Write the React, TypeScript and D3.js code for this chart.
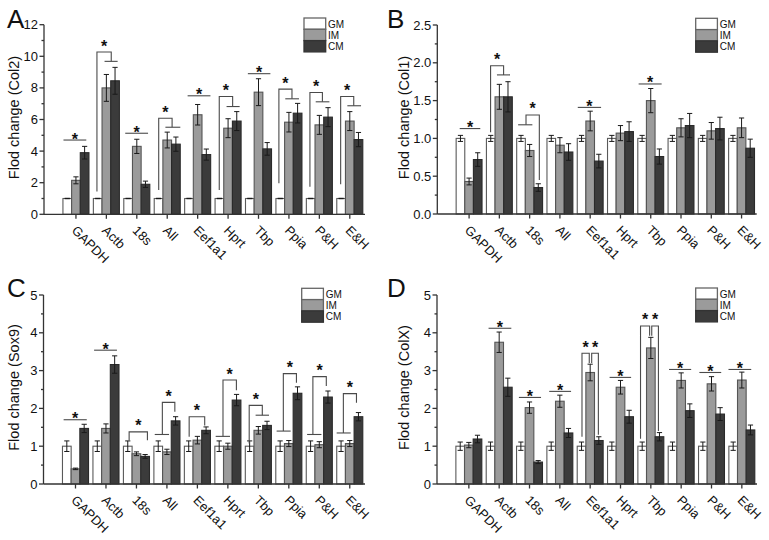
import React from "react";
import * as d3 from "d3";

const categories = ["GAPDH", "Actb", "18s", "All", "Eef1a1", "Hprt", "Tbp", "Ppia", "P&H", "E&H"];
const seriesNames = ["GM", "IM", "CM"];

// Panel A (Col2)
const gmA = [1, 1, 1, 1, 1, 1, 1, 1, 1, 1];
const gmErrA = [0, 0, 0, 0, 0, 0, 0, 0, 0, 0];
const imA = [2.15, 8.0, 4.3, 4.7, 6.3, 5.45, 7.73, 5.83, 5.66, 5.9];
const imErrA = [0.22, 0.85, 0.45, 0.5, 0.65, 0.6, 0.85, 0.62, 0.6, 0.6];
const cmA = [3.9, 8.45, 1.9, 4.44, 3.78, 5.9, 4.14, 6.4, 6.15, 4.73];
const cmErrA = [0.4, 0.85, 0.2, 0.45, 0.35, 0.6, 0.4, 0.62, 0.6, 0.45];

// Panel B (Col1)
const gmB = [1, 1, 1, 1, 1, 1, 1, 1, 1, 1];
const gmErrB = [0.04, 0.04, 0.04, 0.04, 0.04, 0.04, 0.04, 0.04, 0.04, 0.04];
const imB = [0.43, 1.55, 0.84, 0.91, 1.23, 1.07, 1.5, 1.14, 1.1, 1.14];
const imErrB = [0.045, 0.165, 0.08, 0.1, 0.13, 0.1, 0.16, 0.12, 0.11, 0.13];
const cmB = [0.72, 1.55, 0.35, 0.82, 0.7, 1.09, 0.76, 1.17, 1.13, 0.87];
const cmErrB = [0.09, 0.2, 0.05, 0.11, 0.09, 0.13, 0.1, 0.16, 0.15, 0.12];

// Panel C (Sox9)
const gmC = [1, 1, 1, 1, 1, 1, 1, 1, 1, 1];
const gmErrC = [0.14, 0.14, 0.14, 0.14, 0.14, 0.14, 0.14, 0.14, 0.14, 0.14];
const imC = [0.4, 1.47, 0.8, 0.85, 1.16, 1.0, 1.42, 1.07, 1.04, 1.07];
const imErrC = [0.02, 0.12, 0.05, 0.07, 0.1, 0.08, 0.1, 0.08, 0.08, 0.08];
const cmC = [1.47, 3.16, 0.73, 1.67, 1.42, 2.22, 1.55, 2.4, 2.3, 1.78];
const cmErrC = [0.11, 0.23, 0.05, 0.11, 0.09, 0.15, 0.11, 0.17, 0.16, 0.11];

// Panel D (ColX)
const gmD = [1, 1, 1, 1, 1, 1, 1, 1, 1, 1];
const gmErrD = [0.11, 0.11, 0.11, 0.11, 0.11, 0.11, 0.11, 0.11, 0.11, 0.11];
const imD = [1.03, 3.75, 2.02, 2.19, 2.95, 2.56, 3.6, 2.74, 2.65, 2.75];
const imErrD = [0.07, 0.27, 0.15, 0.16, 0.22, 0.18, 0.28, 0.2, 0.19, 0.21];
const cmD = [1.19, 2.56, 0.58, 1.35, 1.15, 1.78, 1.25, 1.94, 1.85, 1.43];
const cmErrD = [0.1, 0.24, 0.04, 0.12, 0.1, 0.17, 0.11, 0.18, 0.17, 0.13];

// significance marks (category index, offsets in category units, heights in data units)
type SigLine = { c: number; x0: number; x1: number; y: number };
type SigBracket = {
  c: number; xl: number; xr: number; top: number; yl: number; yr: number;
  lSpan?: [number, number]; rSpan?: [number, number];
};

const linesA: SigLine[] = [
  { c: 0, x0: -0.41, x1: 0.34, y: 4.7 },
  { c: 2, x0: -0.38, x1: 0.37, y: 5.13 },
  { c: 4, x0: -0.33, x1: 0.42, y: 7.5 },
  { c: 6, x0: -0.35, x1: 0.39, y: 8.9 },
];
const bracketsA: SigBracket[] = [
  { c: 1, xl: -0.31, xr: 0.16, top: 10.27, yl: 1.44, yr: 9.68, rSpan: [-0.06, 0.37] },
  { c: 3, xl: -0.28, xr: 0.16, top: 6.08, yl: 1.54, yr: 5.51, rSpan: [-0.06, 0.43] },
  { c: 5, xl: -0.29, xr: 0.15, top: 7.46, yl: 1.54, yr: 6.82, rSpan: [-0.05, 0.38] },
  { c: 7, xl: -0.33, xr: 0.1, top: 7.92, yl: 1.96, yr: 7.31, rSpan: [-0.12, 0.33] },
  { c: 8, xl: -0.31, xr: 0.1, top: 7.71, yl: 1.75, yr: 7.12, rSpan: [-0.12, 0.33] },
  { c: 9, xl: -0.3, xr: 0.13, top: 7.46, yl: 1.9, yr: 6.87, rSpan: [-0.08, 0.37] },
];

const linesB: SigLine[] = [
  { c: 0, x0: -0.31, x1: 0.37, y: 1.13 },
  { c: 4, x0: -0.41, x1: 0.36, y: 1.41 },
  { c: 6, x0: -0.4, x1: 0.36, y: 1.72 },
];
const bracketsB: SigBracket[] = [
  { c: 1, xl: -0.29, xr: 0.14, top: 1.96, yl: 1.08, yr: 1.84, rSpan: [-0.08, 0.35] },
  { c: 2, xl: -0.12, xr: 0.32, top: 1.31, yl: 1.18, yr: 0.45, lSpan: [-0.38, 0.09] },
];

const linesC: SigLine[] = [
  { c: 0, x0: -0.39, x1: 0.37, y: 1.7 },
  { c: 1, x0: -0.39, x1: 0.36, y: 3.54 },
];
const bracketsC: SigBracket[] = [
  { c: 2, xl: -0.24, xr: 0.36, top: 1.38, yl: 1.16, yr: 1.16 },
  { c: 3, xl: -0.15, xr: 0.26, top: 2.16, yl: 1.31, yr: 1.91, lSpan: [-0.4, 0.07] },
  { c: 4, xl: -0.27, xr: 0.24, top: 1.78, yl: 1.25, yr: 1.55 },
  { c: 5, xl: -0.16, xr: 0.28, top: 2.75, yl: 1.26, yr: 2.48, lSpan: [-0.4, 0.07] },
  { c: 6, xl: -0.3, xr: 0.13, top: 2.08, yl: 1.07, yr: 1.82, rSpan: [-0.09, 0.35] },
  { c: 7, xl: -0.18, xr: 0.25, top: 2.92, yl: 1.4, yr: 2.68, lSpan: [-0.4, 0.06] },
  { c: 8, xl: -0.21, xr: 0.23, top: 2.84, yl: 1.31, yr: 2.59, lSpan: [-0.4, 0.07] },
  { c: 9, xl: -0.21, xr: 0.22, top: 2.39, yl: 1.35, yr: 2.15, lSpan: [-0.43, 0.03] },
];

const linesD: SigLine[] = [
  { c: 1, x0: -0.35, x1: 0.4, y: 4.12 },
  { c: 2, x0: -0.35, x1: 0.38, y: 2.29 },
  { c: 3, x0: -0.35, x1: 0.37, y: 2.45 },
  { c: 5, x0: -0.36, x1: 0.35, y: 2.82 },
  { c: 7, x0: -0.4, x1: 0.33, y: 3.03 },
  { c: 8, x0: -0.4, x1: 0.32, y: 2.95 },
  { c: 9, x0: -0.44, x1: 0.31, y: 3.03 },
];
const bracketsD: SigBracket[] = [
  { c: 4, xl: -0.27, xr: -0.03, top: 3.46, yl: 1.25, yr: 3.2 },
  { c: 4, xl: 0.05, xr: 0.27, top: 3.46, yl: 3.2, yr: 1.3 },
  { c: 6, xl: -0.34, xr: -0.04, top: 4.18, yl: 1.2, yr: 3.92 },
  { c: 6, xl: 0.03, xr: 0.25, top: 4.18, yl: 3.92, yr: 1.4 },
];

const FONT = "'Liberation Sans', Arial, sans-serif";
const fills = ["#ffffff", "#9b9b9b", "#3b3b3b"];
const strokes = ["#5a5a5a", "#555555", "#2a2a2a"];
const OFFS = [-0.285, 0, 0.285];
const BW = 0.285;

type PanelCfg = {
  letter: string; letterX: number; letterY: number;
  label: string; labelX: number;
  x0: number; x1: number; yTop: number; yBot: number;
  yMax: number; yStep: number; fmt: string;
  legX: number; legY: number;
  values: number[][]; errs: number[][];
  lines: SigLine[]; brackets: SigBracket[];
};

function Panel({ p }: { p: PanelCfg }) {
  const x = d3.scaleLinear().domain([-0.05, 10.5]).range([p.x0, p.x1]);
  const y = d3.scaleLinear().domain([0, p.yMax]).range([p.yBot, p.yTop]);
  const fmt = d3.format(p.fmt);
  const major = d3.range(0, p.yMax + 1e-9, p.yStep);
  const minor = d3.range(p.yStep / 2, p.yMax, p.yStep);
  const bwPx = x(BW) - x(0);
  const stroke = "#333";
  const sig = "#4a4a4a";
  const els: React.ReactNode[] = [];

  // bars
  p.values.forEach((vals, s) => {
    vals.forEach((v, i) => {
      const cx = x(i + 1 + OFFS[s]);
      els.push(
        <rect key={`b${s}-${i}`} x={cx - bwPx / 2} y={y(v)} width={bwPx} height={y(0) - y(v)}
          fill={fills[s]} stroke={strokes[s]} strokeWidth={1.1} />
      );
    });
  });
  // error bars
  p.values.forEach((vals, s) => {
    vals.forEach((v, i) => {
      const e = p.errs[s][i];
      const cx = x(i + 1 + OFFS[s]);
      const col = "#1a1a1a";
      els.push(
        <g key={`e${s}-${i}`} stroke={col} strokeWidth={1}>
          {e > 0 && <line x1={cx} x2={cx} y1={y(v - e)} y2={y(v + e)} />}
          <line x1={cx - 2.6} x2={cx + 2.6} y1={y(v + e)} y2={y(v + e)} strokeWidth={e > 0 ? 1 : 1.4} />
          {e > 0 && <line x1={cx - 2.6} x2={cx + 2.6} y1={y(v - e)} y2={y(v - e)} />}
        </g>
      );
    });
  });
  // significance lines
  p.lines.forEach((l, k) => {
    const xa = x(l.c + 1 + l.x0), xb = x(l.c + 1 + l.x1);
    els.push(
      <g key={`sl${k}`}>
        <line x1={xa} x2={xb} y1={y(l.y)} y2={y(l.y)} stroke={sig} strokeWidth={1.1} />
        <text x={(xa + xb) / 2} y={y(l.y) + 4.5} textAnchor="middle" fontSize={16} fontWeight="bold"
          fontFamily={FONT} fill="#111">*</text>
      </g>
    );
  });
  p.brackets.forEach((b, k) => {
    const c = b.c + 1;
    const xl = x(c + b.xl), xr = x(c + b.xr);
    const path = d3.path();
    path.moveTo(xl, y(b.yl));
    path.lineTo(xl, y(b.top));
    path.lineTo(xr, y(b.top));
    path.lineTo(xr, y(b.yr));
    els.push(
      <g key={`sb${k}`}>
        <path d={path.toString()} fill="none" stroke={sig} strokeWidth={1.1} />
        {b.lSpan && (
          <line x1={x(c + b.lSpan[0])} x2={x(c + b.lSpan[1])} y1={y(b.yl)} y2={y(b.yl)} stroke={sig} strokeWidth={1.1} />
        )}
        {b.rSpan && (
          <line x1={x(c + b.rSpan[0])} x2={x(c + b.rSpan[1])} y1={y(b.yr)} y2={y(b.yr)} stroke={sig} strokeWidth={1.1} />
        )}
        <text x={(xl + xr) / 2} y={y(b.top) - 0.5} textAnchor="middle" fontSize={16} fontWeight="bold"
          fontFamily={FONT} fill="#111">*</text>
      </g>
    );
  });

  // axes
  els.push(
    <g key="axes" stroke={stroke} strokeWidth={1.3}>
      <line x1={p.x0} x2={p.x0} y1={y(0)} y2={y(p.yMax)} />
      <line x1={p.x0} x2={p.x1} y1={y(0)} y2={y(0)} />
      {major.map((t) => (
        <line key={`mj${t}`} x1={p.x0 - 4.5} x2={p.x0} y1={y(t)} y2={y(t)} />
      ))}
      {minor.map((t) => (
        <line key={`mn${t}`} x1={p.x0 - 2.5} x2={p.x0} y1={y(t)} y2={y(t)} />
      ))}
      {categories.map((c, i) => (
        <line key={`xt${c}`} x1={x(i + 1)} x2={x(i + 1)} y1={y(0)} y2={y(0) + 4.5} />
      ))}
    </g>
  );
  major.forEach((t) => {
    els.push(
      <text key={`yl${t}`} x={p.x0 - 6} y={y(t) + 4.5} textAnchor="end" fontSize={13}
        fontFamily={FONT} fill="#111">{fmt(t)}</text>
    );
  });
  categories.forEach((c, i) => {
    const tx = x(i + 1) - 5, ty = y(0) + 17;
    els.push(
      <text key={`xl${c}`} x={tx} y={ty} transform={`rotate(45 ${tx} ${ty})`} fontSize={13}
        fontFamily={FONT} fill="#111">{c}</text>
    );
  });
  // y label
  const lc = (p.yTop + p.yBot) / 2 - 2;
  els.push(
    <text key="ylab" x={p.labelX} y={lc} transform={`rotate(-90 ${p.labelX} ${lc})`} textAnchor="middle"
      dominantBaseline="central" fontSize={14.5} fontFamily={FONT} fill="#111">{p.label}</text>
  );
  // letter
  els.push(
    <text key="letter" x={p.letterX} y={p.letterY} fontSize={26} fontFamily={FONT} fill="#111">{p.letter}</text>
  );
  // legend
  seriesNames.forEach((n, s) => {
    const ly = p.legY + s * 11.3;
    els.push(
      <g key={`lg${n}`}>
        <rect x={p.legX} y={ly} width={21.7} height={11.3} fill={fills[s]} stroke={s === 2 ? "#333" : "#666"} strokeWidth={1.3} />
        <text x={p.legX + 24} y={ly + 9.5} fontSize={10} fontFamily={FONT} fill="#111">{n}</text>
      </g>
    );
  });
  return <g>{els}</g>;
}

const panels: PanelCfg[] = [
  {
    letter: "A", letterX: 7, letterY: 28, label: "Flod change (Col2)", labelX: 14,
    x0: 44, x1: 365, yTop: 24.7, yBot: 214.3, yMax: 12, yStep: 2, fmt: "d",
    legX: 304, legY: 18, values: [gmA, imA, cmA], errs: [gmErrA, imErrA, cmErrA],
    lines: linesA, brackets: bracketsA,
  },
  {
    letter: "B", letterX: 387, letterY: 28, label: "Flod change (Col1)", labelX: 404,
    x0: 437.3, x1: 756.7, yTop: 25, yBot: 214, yMax: 2.5, yStep: 0.5, fmt: ".1f",
    legX: 695.7, legY: 18.3, values: [gmB, imB, cmB], errs: [gmErrB, imErrB, cmErrB],
    lines: linesB, brackets: bracketsB,
  },
  {
    letter: "C", letterX: 7, letterY: 297, label: "Flod change (Sox9)", labelX: 14,
    x0: 43.5, x1: 365, yTop: 295, yBot: 484, yMax: 5, yStep: 1, fmt: "d",
    legX: 301.7, legY: 288.3, values: [gmC, imC, cmC], errs: [gmErrC, imErrC, cmErrC],
    lines: linesC, brackets: bracketsC,
  },
  {
    letter: "D", letterX: 387, letterY: 297, label: "Flod change (ColX)", labelX: 404,
    x0: 437, x1: 757, yTop: 295, yBot: 484, yMax: 5, yStep: 1, fmt: "d",
    legX: 695.7, legY: 288, values: [gmD, imD, cmD], errs: [gmErrD, imErrD, cmErrD],
    lines: linesD, brackets: bracketsD,
  },
];

export default function App() {
  return (
    <svg width={769} height={540} viewBox="0 0 769 540"
      style={{ position: "absolute", left: 0, top: 0, background: "#fff" }}>
      <rect x={0} y={0} width={769} height={540} fill="#fff" />
      {panels.map((p) => (
        <Panel key={p.letter} p={p} />
      ))}
    </svg>
  );
}
